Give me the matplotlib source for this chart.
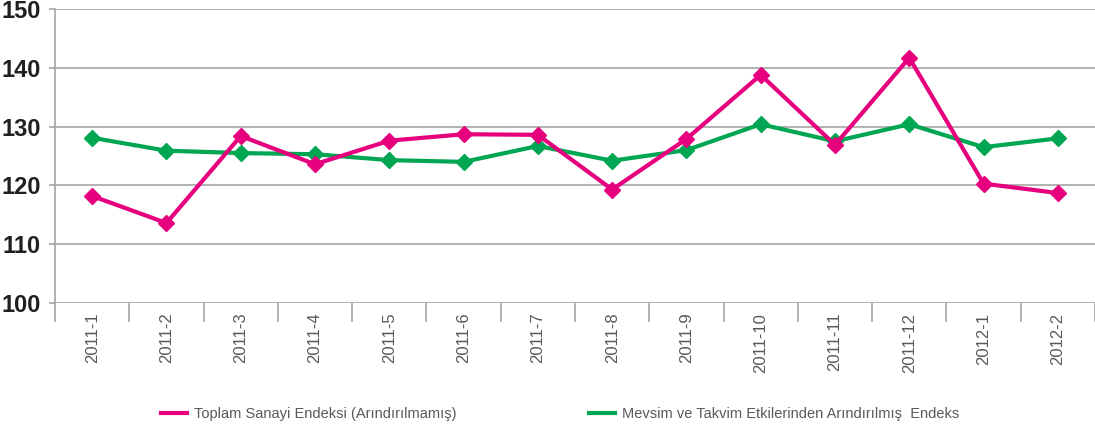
import matplotlib
matplotlib.use('Agg')
import matplotlib.pyplot as plt
from matplotlib.lines import Line2D

months = ['2011-1', '2011-2', '2011-3', '2011-4', '2011-5', '2011-6', '2011-7',
          '2011-8', '2011-9', '2011-10', '2011-11', '2011-12', '2012-1', '2012-2']
raw_index = [118.2, 113.6, 128.4, 123.6, 127.6, 128.7, 128.6,
             119.3, 127.9, 138.8, 126.9, 141.7, 120.3, 118.7]
adj_index = [128.1, 125.9, 125.5, 125.3, 124.3, 124.0, 126.7,
             124.2, 126.0, 130.4, 127.5, 130.4, 126.5, 128.0]
raw_label = 'Toplam Sanayi Endeksi (Arındırılmamış)'
adj_label = 'Mevsim ve Takvim Etkilerinden Arındırılmış  Endeks'

pink = '#E6007E'
green = '#00A651'
grid_grey = '#A6A6A6'
text_grey = '#595959'
plt.rcParams['font.family'] = ['Liberation Sans', 'DejaVu Sans']

fig = plt.figure(figsize=(10.95, 4.32), dpi=100)
ax = fig.add_axes([55 / 1095, 1 - 303 / 432, 1 - 55 / 1095, 294 / 432])

x = list(range(len(months)))
ax.plot(x, adj_index, color=green, linewidth=3, marker='D', markersize=8, zorder=3)
ax.plot(x, raw_index, color=pink, linewidth=3, marker='D', markersize=8, zorder=4)

ax.set_xlim(-0.5, len(months) - 0.5)
ax.set_ylim(100, 150)
ax.set_yticks([100, 110, 120, 130, 140, 150])
ax.yaxis.grid(True, color=grid_grey, linewidth=1.2)
ax.set_axisbelow(True)

for s in ['top', 'right', 'bottom']:
    ax.spines[s].set_visible(False)
ax.spines['left'].set_color(grid_grey)
ax.spines['left'].set_linewidth(1.2)

ax.tick_params(axis='y', length=4, color=grid_grey, width=1.2, pad=6)
for lbl in ax.get_yticklabels():
    lbl.set_fontsize(17)
    lbl.set_fontweight('bold')
    lbl.set_color('#231F20')

ax.set_xticks(x)
ax.set_xticklabels(months, rotation=90, fontsize=12, color=text_grey)
ax.tick_params(axis='x', which='major', length=0, pad=7)
ax.set_xticks([i - 0.5 for i in range(len(months) + 1)], minor=True)
ax.tick_params(axis='x', which='minor', length=14, color=grid_grey, width=1.2)

# two separate legend entries, placed like the original
fig.legend([Line2D([], [], color=pink, linewidth=3)], [raw_label],
           loc='center left', bbox_to_anchor=(148 / 1095, 1 - 414 / 432),
           frameon=False, fontsize=10.5, labelcolor=text_grey,
           handlelength=1.75, handletextpad=0.5)
fig.legend([Line2D([], [], color=green, linewidth=3)], [adj_label],
           loc='center left', bbox_to_anchor=(576 / 1095, 1 - 414 / 432),
           frameon=False, fontsize=10.5, labelcolor=text_grey,
           handlelength=1.75, handletextpad=0.5)

fig.savefig('out.png', dpi=100)
